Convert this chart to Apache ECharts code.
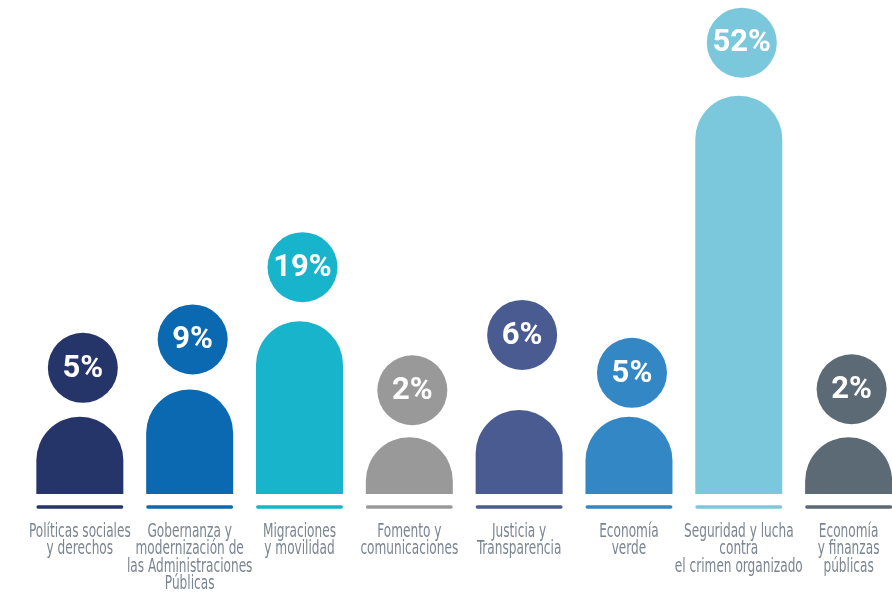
<!DOCTYPE html>
<html>
<head>
<meta charset="utf-8">
<script src="https://cdn.jsdelivr.net/npm/echarts@6/dist/echarts.min.js"></script>
<style>html,body{margin:0;padding:0;background:#fff}#c{width:892px;height:593px}</style>
</head>
<body>
<div id="c"></div>
<script>
const categories = [
  'Políticas sociales\ny derechos',
  'Gobernanza y\nmodernización de\nlas Administraciones\nPúblicas',
  'Migraciones\ny movilidad',
  'Fomento y\ncomunicaciones',
  'Justicia y\nTransparencia',
  'Economía\nverde',
  'Seguridad y lucha\ncontra\nel crimen organizado',
  'Economía\ny finanzas\npúblicas'
];
const values = [5, 9, 19, 2, 6, 5, 52, 2];
const colors = ['#253569', '#0a69b0', '#17b4cc', '#999999', '#4a5b91', '#3387c4', '#7bc8dc', '#5b6a75'];
// styling: distance (px) from bar top to the centre of its percentage bubble
const bubbleLift = [49, 50, 54, 47, 75, 44, 53, 48];

const Y_MIN = -6.3;
const chart = echarts.init(document.getElementById('c'));
chart.setOption({
  animation: false,
  grid: { left: 0, right: 0, top: 0, bottom: 99 },
  xAxis: { type: 'value', min: -0.727, max: 7.395, show: false, splitLine: { show: false } },
  yAxis: { type: 'value', min: Y_MIN, max: 66, show: false, splitLine: { show: false } },
  series: [{
    type: 'custom',
    clip: false,
    data: values.map((v, i) => [i, v]),
    encode: { x: 0, y: 1 },
    renderItem: function (params, api) {
      const i = api.value(0);
      const v = api.value(1);
      const top = api.coord([i, v]);
      const base = api.coord([i, Y_MIN]);
      const w = 87;
      const x = top[0] - w / 2;
      const color = colors[i];
      const cy = top[1] - bubbleLift[i];
      const cx = top[0] + 3;
      return {
        type: 'group',
        children: [
          { type: 'rect', shape: { x: x, y: top[1], width: w, height: base[1] - top[1], r: [43.5, 43.5, 0, 0] }, style: { fill: color } },
          { type: 'line', shape: { x1: x + 1.8, y1: base[1] + 13, x2: x + w - 1.8, y2: base[1] + 13 }, style: { stroke: color, lineWidth: 3.5, lineCap: 'round' } },
          { type: 'circle', shape: { cx: cx, cy: cy, r: 35 }, style: { fill: color } },
          { type: 'text', style: { text: v + '%', x: cx, y: cy + 1, align: 'center', verticalAlign: 'middle', fill: '#ffffff', fontFamily: 'Roboto, sans-serif', fontWeight: 'bold', fontSize: 31 } },
          { type: 'text', x: top[0], y: base[1] + 29, scaleY: 1.4,
            style: { text: categories[i], x: 0, y: 0, align: 'center', verticalAlign: 'top', fill: '#7a8591',
              fontFamily: '"DejaVu Sans Condensed", "Liberation Sans Narrow", sans-serif', fontSize: 13.5, lineHeight: 12.5 } }
        ]
      };
    }
  }]
});
</script>
</body>
</html>
